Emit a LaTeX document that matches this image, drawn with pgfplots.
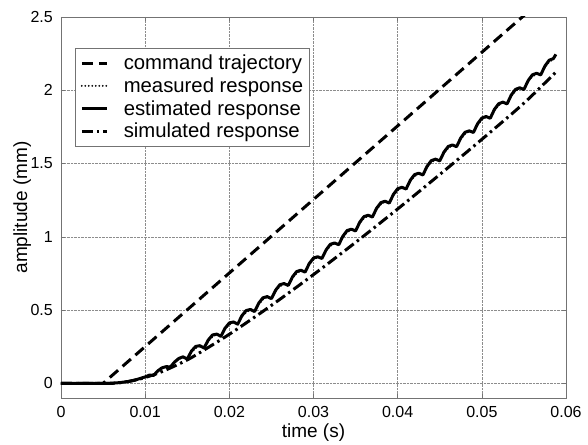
\documentclass[border=0pt]{standalone}
\usepackage{fontspec}
\setmainfont{Liberation Sans}
\usepackage{pgfplots}
\pgfplotsset{compat=1.18}
\begin{document}
\begin{tikzpicture}
\useasboundingbox (-61pt,-46pt) rectangle (527pt,398pt);
\begin{axis}[
  at={(0pt,0pt)}, anchor=south west,
  scale only axis, width=505pt, height=381pt,
  xmin=0, xmax=0.06, ymin=-0.1, ymax=2.5,
  xtick={0,0.01,0.02,0.03,0.04,0.05,0.06},
  xticklabels={0,0.01,0.02,0.03,0.04,0.05,0.06},
  ytick={0,0.5,1,1.5,2,2.5},
  yticklabels={0,0.5,1,1.5,2,2.5},
  scaled x ticks=false, scaled y ticks=false,
  tick label style={font=\fontsize{16}{18}\selectfont},
  xticklabel style={anchor=north, inner sep=0pt, yshift=-8pt},
  yticklabel style={anchor=east, inner sep=0pt, xshift=-8pt},
  label style={font=\fontsize{19}{22}\selectfont},
  xlabel={time (s)}, ylabel={amplitude (mm)},
  xlabel style={at={(axis description cs:0.5,-0.1024)}, anchor=base},
  ylabel style={at={(axis description cs:-0.0673,0.5)}, anchor=base},
  axis line style={draw=black!55, line width=0.6pt},
  tick style={draw=black!55, line width=0.5pt},
  major tick length=4pt, tick align=inside,
  grid=major, grid style={densely dotted, black!45, line width=0.5pt},
  legend style={at={(axis description cs:0.0277,0.918)}, anchor=north west,
    draw=black!55, line width=0.6pt, font=\fontsize{20.3}{23}\selectfont,
    inner xsep=5pt, inner ysep=5pt, row sep=3.5pt,
    nodes={inner sep=1.5pt},
    /tikz/every odd column/.append style={column sep=14pt}},
  legend cell align=left,
  legend image code/.code={\draw[#1] (0pt,0pt) -- (25pt,0pt);},
]
\addplot[black, line width=3pt, dash pattern=on 11pt off 6pt] table {
x y
0 0
0.005 0
0.0548 2.5
0.06 2.761
};
\addlegendentry{command trajectory\hspace{18pt}}
\addplot[black, line width=2pt, line cap=round, dash pattern=on 0pt off 3.5pt] table {
x y
0 0
0.0050 0
0.0055 0.000
0.0060 0.001
0.0065 0.003
0.0070 0.005
0.0075 0.009
0.0080 0.013
0.0085 0.019
0.0090 0.026
0.0095 0.035
0.0100 0.044
0.0105 0.056
0.0110 0.057
0.0115 0.081
0.0120 0.100
0.0125 0.112
0.0130 0.115
0.0135 0.142
0.0140 0.164
0.0145 0.179
0.0150 0.171
0.0155 0.212
0.0160 0.240
0.0165 0.253
0.0170 0.246
0.0175 0.288
0.0180 0.318
0.0185 0.332
0.0190 0.326
0.0195 0.369
0.0200 0.400
0.0205 0.415
0.0210 0.409
0.0215 0.454
0.0220 0.485
0.0225 0.500
0.0230 0.495
0.0235 0.540
0.0240 0.572
0.0245 0.588
0.0250 0.583
0.0255 0.628
0.0260 0.661
0.0265 0.677
0.0270 0.673
0.0275 0.718
0.0280 0.751
0.0285 0.768
0.0290 0.764
0.0295 0.810
0.0300 0.843
0.0305 0.860
0.0310 0.857
0.0315 0.903
0.0320 0.937
0.0325 0.954
0.0330 0.951
0.0335 0.997
0.0340 1.031
0.0345 1.048
0.0350 1.045
0.0355 1.092
0.0360 1.126
0.0365 1.143
0.0370 1.140
0.0375 1.187
0.0380 1.221
0.0385 1.239
0.0390 1.235
0.0395 1.282
0.0400 1.316
0.0405 1.334
0.0410 1.331
0.0415 1.378
0.0420 1.412
0.0425 1.430
0.0430 1.427
0.0435 1.474
0.0440 1.508
0.0445 1.526
0.0450 1.523
0.0455 1.570
0.0460 1.604
0.0465 1.623
0.0470 1.620
0.0475 1.667
0.0480 1.701
0.0485 1.719
0.0490 1.717
0.0495 1.764
0.0500 1.798
0.0505 1.817
0.0510 1.814
0.0515 1.862
0.0520 1.896
0.0525 1.915
0.0530 1.912
0.0535 1.960
0.0540 1.994
0.0545 2.013
0.0550 2.010
0.0555 2.058
0.0560 2.093
0.0565 2.112
0.0570 2.110
0.0575 2.158
0.0580 2.193
0.0585 2.212
0.0588 2.235
};
\addlegendentry{measured response}
\addplot[black, line width=3pt, line join=round] table {
x y
0 0
0.0050 0
0.0055 0.000
0.0060 0.001
0.0065 0.003
0.0070 0.005
0.0075 0.009
0.0080 0.013
0.0085 0.019
0.0090 0.026
0.0095 0.035
0.0100 0.044
0.0105 0.056
0.0110 0.054
0.0115 0.085
0.0120 0.106
0.0125 0.114
0.0130 0.112
0.0135 0.146
0.0140 0.170
0.0145 0.181
0.0150 0.166
0.0155 0.220
0.0160 0.252
0.0165 0.257
0.0170 0.241
0.0175 0.296
0.0180 0.330
0.0185 0.336
0.0190 0.321
0.0195 0.377
0.0200 0.412
0.0205 0.419
0.0210 0.404
0.0215 0.462
0.0220 0.497
0.0225 0.504
0.0230 0.490
0.0235 0.548
0.0240 0.584
0.0245 0.592
0.0250 0.578
0.0255 0.636
0.0260 0.673
0.0265 0.681
0.0270 0.668
0.0275 0.726
0.0280 0.763
0.0285 0.772
0.0290 0.759
0.0295 0.818
0.0300 0.855
0.0305 0.864
0.0310 0.852
0.0315 0.911
0.0320 0.949
0.0325 0.958
0.0330 0.946
0.0335 1.005
0.0340 1.043
0.0345 1.052
0.0350 1.040
0.0355 1.100
0.0360 1.138
0.0365 1.147
0.0370 1.135
0.0375 1.195
0.0380 1.233
0.0385 1.243
0.0390 1.230
0.0395 1.290
0.0400 1.328
0.0405 1.338
0.0410 1.326
0.0415 1.386
0.0420 1.424
0.0425 1.434
0.0430 1.422
0.0435 1.482
0.0440 1.520
0.0445 1.530
0.0450 1.518
0.0455 1.578
0.0460 1.616
0.0465 1.627
0.0470 1.615
0.0475 1.675
0.0480 1.713
0.0485 1.723
0.0490 1.712
0.0495 1.772
0.0500 1.810
0.0505 1.821
0.0510 1.809
0.0515 1.870
0.0520 1.908
0.0525 1.919
0.0530 1.907
0.0535 1.968
0.0540 2.006
0.0545 2.017
0.0550 2.005
0.0555 2.066
0.0560 2.105
0.0565 2.116
0.0570 2.105
0.0575 2.166
0.0580 2.205
0.0585 2.216
0.0588 2.245
};
\addlegendentry{estimated response}
\addplot[black, line width=3pt, smooth, dash pattern=on 11pt off 4pt on 2.5pt off 4pt] table {
x y
0 0
0.0055 0
0.0065 0.002
0.0075 0.008
0.0085 0.018
0.0100 0.040
0.0120 0.080
0.0150 0.160
0.0175 0.245
0.0200 0.335
0.0225 0.432
0.0250 0.532
0.0275 0.636
0.0300 0.742
0.0350 0.962
0.0400 1.190
0.0450 1.425
0.0500 1.665
0.0550 1.912
0.0589 2.130
};
\addlegendentry{simulated response}
\end{axis}
\end{tikzpicture}
\end{document}
